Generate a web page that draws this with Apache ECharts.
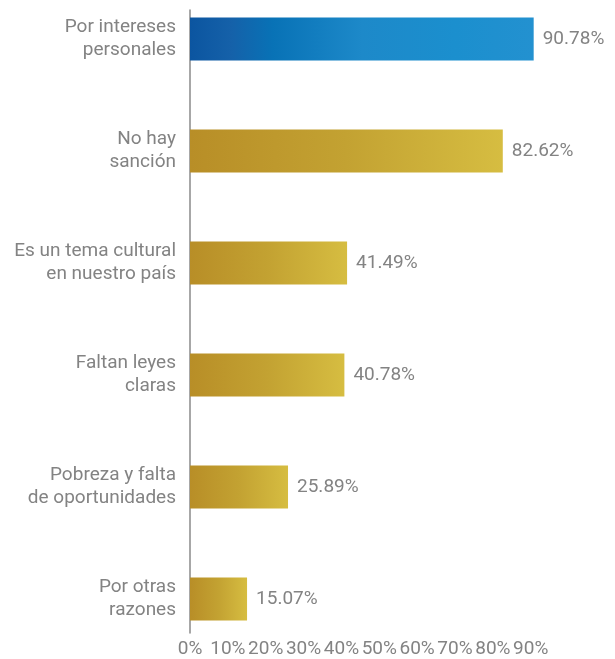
<!DOCTYPE html>
<html>
<head>
<meta charset="utf-8">
<script src="https://cdn.jsdelivr.net/npm/echarts@6/dist/echarts.min.js"></script>
<style>
  html, body { margin: 0; padding: 0; background: #ffffff; }
  #chart { width: 615px; height: 659px; }
</style>
</head>
<body>
<div id="chart"></div>
<script>
// Reasons, top to bottom
const categories = [
  'Por intereses\npersonales',
  'No hay\nsanción',
  'Es un tema cultural\nen nuestro país',
  'Faltan leyes\nclaras',
  'Pobreza y falta\nde oportunidades',
  'Por otras\nrazones'
];
// Share of responses (%)
const values = [90.78, 82.62, 41.49, 40.78, 25.89, 15.07];
// Axis ticks (%)
const tickValues = [0, 10, 20, 30, 40, 50, 60, 70, 80, 90];

const textColor = '#838383';
const fontFamily = 'Roboto, "Noto Sans", sans-serif';
const fontSize = 19;

const blueFill = new echarts.graphic.LinearGradient(0, 0, 1, 0, [
  { offset: 0, color: '#0B55A0' },
  { offset: 0.12, color: '#1561A9' },
  { offset: 0.24, color: '#0872B6' },
  { offset: 0.5, color: '#1D89C9' },
  { offset: 0.77, color: '#1B8FCE' },
  { offset: 1, color: '#2391D0' }
]);
const goldFill = new echarts.graphic.LinearGradient(0, 0, 1, 0, [
  { offset: 0, color: '#B88E27' },
  { offset: 0.5, color: '#C3A232' },
  { offset: 1, color: '#D6BD41' }
]);

const axisMax = 92;
const chart = echarts.init(document.getElementById('chart'));
chart.setOption({
  animation: false,
  grid: [
    { left: 190, right: 76.7, top: -17, height: 672, outerBoundsMode: 'none', containLabel: false },
    { left: 190, right: 76.7, top: 10, bottom: 26, outerBoundsMode: 'none', containLabel: false }
  ],
  xAxis: [
    { gridIndex: 0, type: 'value', min: 0, max: axisMax, show: false },
    {
      gridIndex: 1, type: 'value', min: 0, max: axisMax, interval: 10,
      axisLine: { show: false }, axisTick: { show: false }, splitLine: { show: false },
      axisLabel: {
        color: textColor, fontSize: fontSize, fontFamily: fontFamily, margin: 7,
        showMaxLabel: false, hideOverlap: false,
        formatter: v => (tickValues.indexOf(v) >= 0 ? v + '%' : '')
      }
    }
  ],
  yAxis: [
    {
      gridIndex: 0, type: 'category', inverse: true, data: categories,
      axisLine: { show: false }, axisTick: { show: false },
      axisLabel: {
        color: textColor, fontSize: fontSize, fontFamily: fontFamily,
        lineHeight: 23, margin: 14, align: 'right'
      }
    },
    {
      gridIndex: 1, type: 'value', min: 0, max: 1,
      axisLine: { show: true, lineStyle: { color: '#8a8a8a', width: 1.5 } },
      axisTick: { show: false }, axisLabel: { show: false }, splitLine: { show: false }
    }
  ],
  series: [{
    type: 'bar',
    xAxisIndex: 0,
    yAxisIndex: 0,
    barWidth: 43,
    data: values.map((v, i) => ({
      value: v,
      itemStyle: { color: i === 0 ? blueFill : goldFill }
    })),
    label: {
      show: true, position: 'right', distance: 9,
      color: textColor, fontSize: fontSize, fontFamily: fontFamily,
      formatter: p => p.value.toFixed(2) + '%'
    }
  }]
});
</script>
</body>
</html>
